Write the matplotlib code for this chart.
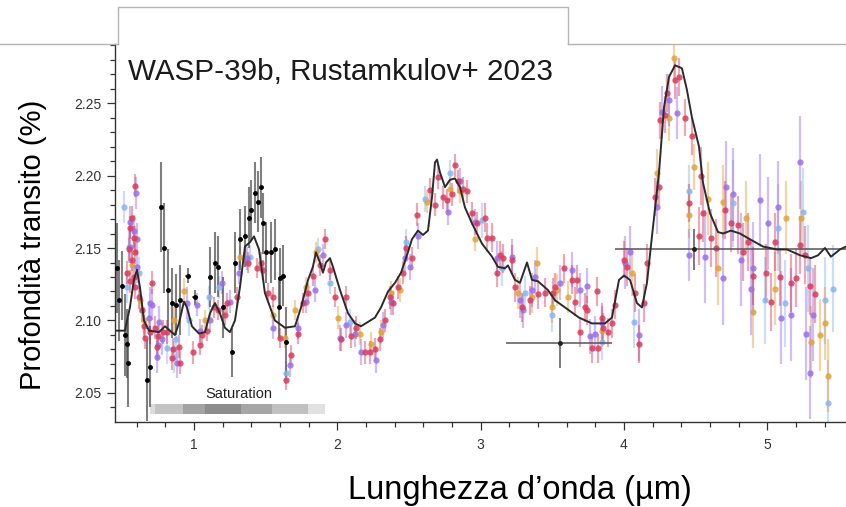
import numpy as np
import matplotlib
matplotlib.use('Agg')
import matplotlib.pyplot as plt
from matplotlib.ticker import MultipleLocator, FormatStrFormatter
from matplotlib.lines import Line2D

plt.rcParams['font.family'] = ['Liberation Sans', 'DejaVu Sans']

# --- model spectrum (black line) ---
model_wl = [0.463, 0.518, 0.553, 0.581, 0.602, 0.623, 0.651, 0.686, 0.756, 0.798,
            0.833, 0.867, 0.895, 0.930, 0.951, 0.986, 1.035, 1.077, 1.112, 1.147,
            1.181, 1.216, 1.251, 1.286, 1.321, 1.356, 1.391, 1.419, 1.454, 1.495,
            1.565, 1.635, 1.705, 1.747, 1.796, 1.830, 1.851, 1.879, 1.900, 1.921,
            1.949, 1.970, 2.019, 2.075, 2.124, 2.165, 2.214, 2.263, 2.305, 2.354,
            2.403, 2.445, 2.493, 2.521, 2.563, 2.598, 2.633, 2.661, 2.682, 2.696,
            2.717, 2.752, 2.786, 2.821, 2.856, 2.891, 2.940, 3.010, 3.080, 3.121,
            3.170, 3.191, 3.240, 3.275, 3.324, 3.359, 3.401, 3.470, 3.519, 3.589,
            3.687, 3.777, 3.868, 3.917, 3.966, 4.001, 4.043, 4.091, 4.126, 4.161,
            4.196, 4.245, 4.280, 4.315, 4.357, 4.405, 4.440, 4.475, 4.524, 4.552,
            4.601, 4.657, 4.692, 4.747, 4.810, 4.880, 4.971, 5.068, 5.138, 5.229,
            5.306, 5.355, 5.403, 5.445, 5.508, 5.550]
model_depth = [2.093, 2.093, 2.109, 2.128, 2.135, 2.123, 2.100, 2.093, 2.092, 2.096,
               2.093, 2.090, 2.098, 2.113, 2.109, 2.096, 2.091, 2.092, 2.105, 2.112,
               2.105, 2.095, 2.092, 2.100, 2.123, 2.151, 2.154, 2.158, 2.149, 2.119,
               2.100, 2.095, 2.096, 2.109, 2.128, 2.137, 2.147, 2.140, 2.133, 2.140,
               2.143, 2.137, 2.121, 2.105, 2.098, 2.096, 2.099, 2.102, 2.109, 2.120,
               2.126, 2.133, 2.147, 2.156, 2.162, 2.159, 2.162, 2.185, 2.209, 2.211,
               2.202, 2.192, 2.197, 2.198, 2.192, 2.178, 2.167, 2.153, 2.144, 2.137,
               2.136, 2.138, 2.128, 2.126, 2.140, 2.128, 2.127, 2.121, 2.114, 2.109,
               2.102, 2.098, 2.098, 2.102, 2.128, 2.131, 2.128, 2.112, 2.109, 2.126,
               2.158, 2.202, 2.247, 2.268, 2.276, 2.274, 2.259, 2.240, 2.220, 2.195,
               2.174, 2.161, 2.160, 2.162, 2.160, 2.156, 2.151, 2.149, 2.149, 2.145,
               2.143, 2.145, 2.150, 2.144, 2.149, 2.151]

# --- black points (short wavelengths) ---
blk_wl = [0.463, 0.477, 0.498, 0.518, 0.532, 0.539, 0.672, 0.693, 0.770, 0.791,
          0.819, 0.846, 0.874, 0.902, 0.958, 1.007, 1.112, 1.147, 1.167, 1.202,
          1.265, 1.286, 1.321, 1.356, 1.384, 1.398, 1.426, 1.447, 1.468, 1.482,
          1.502, 1.537, 1.565, 1.593, 1.600, 1.621, 1.642]
blk_depth = [2.136, 2.114, 2.124, 2.090, 2.084, 2.071, 2.059, 2.068, 2.178, 2.150,
             2.121, 2.112, 2.111, 2.114, 2.131, 2.116, 2.130, 2.140, 2.137, 2.109,
             2.078, 2.140, 2.156, 2.158, 2.171, 2.176, 2.188, 2.182, 2.192, 2.167,
             2.147, 2.147, 2.149, 2.109, 2.129, 2.131, 2.085]
blk_err = [0.031, 0.028, 0.024, 0.028, 0.024, 0.031, 0.028, 0.028, 0.031, 0.031,
           0.028, 0.024, 0.021, 0.024, 0.005, 0.005, 0.021, 0.021, 0.021, 0.021,
           0.017, 0.021, 0.021, 0.021, 0.021, 0.021, 0.021, 0.021, 0.021, 0.021,
           0.021, 0.021, 0.021, 0.021, 0.021, 0.021, 0.024]
blk_xerr = [0, 0, 0, 0, 0, 0, 0, 0, 0, 0,
            0, 0, 0, 0, 0.02, 0.02, 0, 0, 0, 0,
            0, 0, 0, 0, 0, 0, 0, 0, 0, 0,
            0, 0, 0, 0, 0, 0, 0]

# --- wide binned points ---
bin_wl = [3.553, 4.490]
bin_depth = [2.0843, 2.149]
bin_xlo = [0.377, 0.55]
bin_xhi = [0.367, 1.20]
bin_err = [0.0173, 0.014]

# --- coloured reductions ---
red_wl = [0.532, 0.546, 0.553, 0.553, 0.567, 0.567, 0.581, 0.581, 0.588, 0.588,
          0.588, 0.616, 0.637, 0.651, 0.658, 0.693, 0.707, 0.728, 0.742, 0.749,
          0.784, 0.812, 0.846, 0.853, 0.895, 0.902, 0.993, 1.042, 1.056, 1.091,
          1.140, 1.167, 1.216, 1.230, 1.300, 1.377, 1.440, 1.468, 1.482, 1.516,
          1.551, 1.600, 1.642, 1.677, 1.726, 1.761, 1.796, 1.830, 1.879, 1.914,
          1.949, 1.984, 2.026, 2.061, 2.096, 2.131, 2.193, 2.228, 2.263, 2.298,
          2.333, 2.368, 2.389, 2.424, 2.459, 2.479, 2.521, 2.556, 2.647, 2.682,
          2.703, 2.738, 2.766, 2.800, 2.821, 2.842, 2.877, 2.905, 2.940, 2.975,
          3.031, 3.045, 3.080, 3.114, 3.135, 3.156, 3.219, 3.240, 3.289, 3.345,
          3.401, 3.449, 3.505, 3.519, 3.582, 3.638, 3.659, 3.673, 3.694, 3.729,
          3.742, 3.777, 3.812, 3.819, 3.847, 3.854, 3.889, 3.917, 3.938, 4.001,
          4.021, 4.077, 4.105, 4.140, 4.161, 4.217, 4.245, 4.252, 4.287, 4.301,
          4.357, 4.384, 4.426, 4.454, 4.475, 4.524, 4.538, 4.552, 4.608, 4.643,
          4.706, 4.747, 4.796, 4.831, 4.866, 4.901, 4.992, 5.027, 5.054, 5.089,
          5.166, 5.201, 5.229, 5.264, 5.299, 5.334]
red_depth = [2.133, 2.149, 2.164, 2.127, 2.171, 2.142, 2.157, 2.130, 2.193, 2.147,
             2.123, 2.116, 2.107, 2.096, 2.088, 2.092, 2.126, 2.095, 2.082, 2.089,
             2.092, 2.092, 2.074, 2.080, 2.082, 2.071, 2.078, 2.083, 2.090, 2.093,
             2.109, 2.107, 2.104, 2.112, 2.116, 2.140, 2.136, 2.140, 2.135, 2.119,
             2.116, 2.088, 2.059, 2.076, 2.091, 2.112, 2.119, 2.131, 2.138, 2.156,
             2.135, 2.116, 2.087, 2.116, 2.089, 2.095, 2.078, 2.078, 2.080, 2.087,
             2.100, 2.116, 2.112, 2.123, 2.133, 2.150, 2.143, 2.173, 2.190, 2.180,
             2.199, 2.185, 2.183, 2.187, 2.207, 2.196, 2.191, 2.189, 2.174, 2.167,
             2.171, 2.157, 2.157, 2.133, 2.145, 2.143, 2.142, 2.123, 2.109, 2.114,
             2.118, 2.119, 2.119, 2.123, 2.136, 2.128, 2.113, 2.128, 2.092, 2.109,
             2.107, 2.081, 2.120, 2.081, 2.102, 2.095, 2.092, 2.098, 2.111, 2.142,
             2.137, 2.119, 2.084, 2.112, 2.140, 2.185, 2.192, 2.238, 2.242, 2.257,
             2.266, 2.268, 2.240, 2.181, 2.227, 2.158, 2.200, 2.174, 2.157, 2.150,
             2.176, 2.167, 2.166, 2.147, 2.154, 2.131, 2.133, 2.113, 2.154, 2.130,
             2.126, 2.129, 2.152, 2.145, 2.124, 2.118]

purple_wl = [0.553, 0.553, 0.581, 0.595, 0.602, 0.602, 0.686, 0.693, 0.707, 0.742,
             0.749, 0.756, 0.777, 0.881, 0.951, 1.021, 1.042, 1.112, 1.195, 1.251,
             1.314, 1.370, 1.551, 1.670, 1.726, 1.782, 1.844, 1.900, 2.019, 2.061,
             2.124, 2.165, 2.270, 2.319, 2.375, 2.472, 2.507, 2.563, 2.773, 2.856,
             2.961, 3.114, 3.219, 3.275, 3.296, 3.359, 3.380, 3.554, 3.638, 3.694,
             3.742, 3.763, 3.798, 3.847, 4.007, 4.043, 4.105, 4.231, 4.266, 4.315,
             4.371, 4.454, 4.566, 4.692, 4.713, 4.761, 4.817, 4.887, 4.901, 4.950,
             5.006, 5.075, 5.096, 5.166, 5.229, 5.271, 5.299, 5.320]
purple_depth = [2.168, 2.151, 2.162, 2.188, 2.156, 2.137, 2.102, 2.112, 2.111, 2.075,
                2.083, 2.099, 2.087, 2.071, 2.112, 2.111, 2.093, 2.100, 2.126, 2.113,
                2.133, 2.143, 2.095, 2.069, 2.095, 2.113, 2.121, 2.145, 2.088, 2.097,
                2.091, 2.078, 2.073, 2.097, 2.113, 2.143, 2.137, 2.158, 2.175, 2.196,
                2.168, 2.143, 2.144, 2.114, 2.107, 2.121, 2.130, 2.126, 2.135, 2.121,
                2.124, 2.089, 2.091, 2.098, 2.140, 2.147, 2.090, 2.178, 2.244, 2.252,
                2.243, 2.145, 2.144, 2.129, 2.192, 2.187, 2.142, 2.122, 2.136, 2.183,
                2.167, 2.178, 2.102, 2.104, 2.209, 2.091, 2.064, 2.104]

blue_wl = [0.512, 0.532, 0.546, 0.616, 0.812, 0.860, 0.874, 0.965, 1.105, 1.174,
           1.391, 1.642, 1.865, 1.949, 2.089, 2.479, 2.612, 2.786, 3.010, 3.149,
           3.310, 3.498, 3.847, 4.071, 4.454, 4.761, 4.985, 5.075, 5.124, 5.250,
           5.285, 5.403, 5.424, 5.459]
blue_depth = [2.178, 2.123, 2.151, 2.133, 2.081, 2.075, 2.087, 2.100, 2.116, 2.123,
              2.144, 2.064, 2.149, 2.126, 2.099, 2.154, 2.184, 2.202, 2.169, 2.136,
              2.119, 2.104, 2.085, 2.099, 2.189, 2.181, 2.114, 2.164, 2.112, 2.175,
              2.136, 2.114, 2.043, 2.122]

orange_wl = [0.567, 0.588, 0.623, 0.651, 0.860, 0.930, 1.077, 1.321, 1.551, 1.635,
             1.705, 1.782, 1.851, 2.005, 2.158, 2.235, 2.305, 2.375, 2.438, 2.626,
             2.786, 2.856, 2.961, 3.261, 3.359, 3.394, 3.498, 3.533, 3.610, 3.847,
             4.057, 4.231, 4.315, 4.350, 4.454, 4.489, 4.587, 4.657, 4.692, 4.852,
             4.901, 5.054, 5.131, 5.236, 5.306, 5.368, 5.403, 5.424]
orange_depth = [2.138, 2.156, 2.114, 2.100, 2.100, 2.120, 2.100, 2.144, 2.104, 2.088,
                2.107, 2.123, 2.147, 2.102, 2.091, 2.084, 2.092, 2.119, 2.121, 2.182,
                2.191, 2.189, 2.156, 2.119, 2.116, 2.140, 2.109, 2.121, 2.116, 2.093,
                2.133, 2.202, 2.240, 2.281, 2.173, 2.206, 2.184, 2.136, 2.182, 2.171,
                2.106, 2.122, 2.171, 2.171, 2.085, 2.090, 2.098, 2.062]

# error bar half-sizes read per wavelength band: <1, 1-2, 2-3, 3-4, 4-4.5, >4.5 um
err_edges = [1.0, 2.0, 3.0, 4.0, 4.5]
red_err = [0.008, 0.007, 0.008, 0.010, 0.013, 0.020]
purple_err = [0.011, 0.008, 0.009, 0.012, 0.018, 0.032]
blue_err = [0.011, 0.008, 0.009, 0.012, 0.018, 0.030]
orange_err = [0.009, 0.007, 0.008, 0.011, 0.016, 0.025]

# saturation strip
sat_edges = [0.693, 0.728, 0.921, 1.077, 1.326, 1.542, 1.798, 1.914]
sat_grays = ['#dcdcdc', '#c3c3c3', '#a3a3a3', '#8d8d8d', '#a6a6a6', '#c0c0c0', '#e1e1e1']
sat_lo, sat_hi = 2.0353, 2.0422


def band(wl, vals):
    return np.array(vals)[np.searchsorted(err_edges, wl)]


fig = plt.figure(figsize=(8.46, 5.07), dpi=100)
ax = fig.add_axes([115/846, 85.3/507, 731/846, 377.7/507])

series = [
    (blue_wl, blue_depth, blue_err, '#8ab5f2'),
    (orange_wl, orange_depth, orange_err, '#e0a33c'),
    (purple_wl, purple_depth, purple_err, '#9a70ea'),
    (red_wl, red_depth, red_err, '#d83c5e'),
]
for wl, d, e, c in series:
    ax.errorbar(wl, d, yerr=band(wl, e), fmt='none', ecolor=c, elinewidth=1.6,
                alpha=0.45, zorder=2)
    ax.plot(wl, d, 'o', ms=4.5, color=c, alpha=0.85, mec='none', zorder=3)

ax.errorbar(blk_wl, blk_depth, yerr=blk_err, xerr=blk_xerr, fmt='none',
            ecolor='#4a4a4a', elinewidth=1.5, alpha=0.7, zorder=2)
ax.plot(blk_wl, blk_depth, 'o', ms=2.5, color='black', zorder=3)

ax.errorbar(bin_wl, bin_depth, yerr=bin_err, xerr=[bin_xlo, bin_xhi], fmt='o',
            ms=2.5, color='#222222', ecolor='#555555', elinewidth=1.1, zorder=4)

ax.plot(model_wl, model_depth, color='#2b2b2b', lw=1.4, zorder=5)

for i, g in enumerate(sat_grays):
    ax.fill_between([sat_edges[i], sat_edges[i+1]], sat_lo, sat_hi, color=g, lw=0, zorder=1)
ax.text(1.31, 2.0490, 'Saturation', ha='center', va='center', fontsize=10.5, color='#222222')

ax.set_xlim(0.449, 5.550)
ax.set_ylim(2.0302, 2.2907)
ax.xaxis.set_major_locator(MultipleLocator(1))
ax.xaxis.set_minor_locator(MultipleLocator(0.2))
ax.yaxis.set_major_locator(MultipleLocator(0.05))
ax.yaxis.set_minor_locator(MultipleLocator(0.01))
ax.yaxis.set_major_formatter(FormatStrFormatter('%.2f'))
ax.tick_params(which='major', length=6, width=0.9, labelsize=10, color='#333333',
               labelcolor='#333333', pad=4)
ax.tick_params(axis='x', which='major', pad=6)
ax.tick_params(which='minor', length=3.5, width=0.9, color='#333333')
for s in ['top', 'right']:
    ax.spines[s].set_visible(False)
for s in ['left', 'bottom']:
    ax.spines[s].set_color('#333333')
    ax.spines[s].set_linewidth(1.0)

# framing lines of the pasted panel and title tab
gc = '#b4b4b4'
ytop = (507 - 44) / 507
ytab = (507 - 7) / 507
xl, xr = 118/846, 568/846
fig.add_artist(Line2D([0, xl], [ytop, ytop], color=gc, lw=1, transform=fig.transFigure))
fig.add_artist(Line2D([xr, 1], [ytop, ytop], color=gc, lw=1, transform=fig.transFigure))
fig.add_artist(Line2D([xl, xl, xr, xr], [ytop, ytab, ytab, ytop], color=gc, lw=1,
                      transform=fig.transFigure))

fig.text(128/846, (507 - 72)/507, 'WASP-39b, Rustamkulov+ 2023', fontsize=21.3,
         ha='left', va='center', color='#1a1a1a')
fig.text(33/846, (507 - 245)/507, 'Profondità transito (%)', rotation=90,
         fontsize=21, ha='center', va='center')
fig.text(520/846, (507 - 490)/507, 'Lunghezza d’onda (µm)', fontsize=23.5,
         ha='center', va='center')

fig.savefig('out.png', dpi=100)
